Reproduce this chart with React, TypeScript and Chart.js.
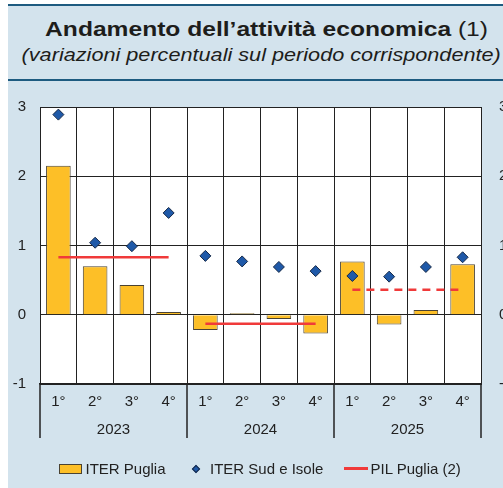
import React, { useEffect, useRef } from 'react';
import { Chart, registerables } from 'chart.js';

Chart.register(...registerables);

const quarterLabels = ['1°', '2°', '3°', '4°', '1°', '2°', '3°', '4°', '1°', '2°', '3°', '4°'];
const yearLabels = ['2023', '2024', '2025'];
const iterPuglia = [2.15, 0.7, 0.43, 0.04, -0.22, 0.02, -0.06, -0.27, 0.77, -0.14, 0.07, 0.73];
const iterSudIsole = [2.89, 1.04, 0.99, 1.47, 0.85, 0.77, 0.69, 0.63, 0.56, 0.55, 0.69, 0.83];
const pilPuglia = [0.83, 0.83, 0.83, 0.83, -0.13, -0.13, -0.13, -0.13, 0.36, 0.36, 0.36, 0.36];
const yMin = -1;
const yMax = 3;

const FONT = '"Liberation Sans", Arial, Helvetica, sans-serif';
const BG = '#d3e3ed';
const DARK = '#1d5b80';
const BAR = '#fdbf27';
const BAR_BORDER = '#4a4232';
const DIAMOND = '#1f59a8';
const DIAMOND_BORDER = '#172a48';
const RED = '#f03a3a';
const GRID = '#222';
const TEXT = '#222';

const plotBackground = {
  id: 'plotBackground',
  beforeDraw(chart: any) {
    const { ctx, chartArea } = chart;
    ctx.save();
    ctx.fillStyle = '#ffffff';
    ctx.fillRect(chartArea.left, chartArea.top, chartArea.right - chartArea.left, chartArea.bottom - chartArea.top);
    ctx.restore();
  },
};

const yearDividers = {
  id: 'yearDividers',
  afterDraw(chart: any) {
    const s = chart.scales.xYear;
    const { ctx, chartArea } = chart;
    ctx.save();
    ctx.strokeStyle = GRID;
    ctx.lineWidth = 1.5;
    for (let j = 0; j <= yearLabels.length; j++) {
      const px = s.getPixelForValue(j - 0.5);
      ctx.beginPath();
      ctx.moveTo(px, chartArea.bottom);
      ctx.lineTo(px, chartArea.bottom + 54);
      ctx.stroke();
    }
    ctx.restore();
  },
};

function ChartCanvas() {
  const ref = useRef<HTMLCanvasElement | null>(null);
  useEffect(() => {
    if (!ref.current) return;
    const font = { family: FONT, size: 15 };
    const chart = new Chart(ref.current, {
      data: {
        labels: quarterLabels,
        datasets: [
          {
            type: 'bar',
            label: 'ITER Puglia',
            data: iterPuglia,
            backgroundColor: BAR,
            borderColor: BAR_BORDER,
            borderWidth: 1,
            barPercentage: 0.67,
            categoryPercentage: 1,
            order: 3,
          },
          {
            type: 'line',
            label: 'PIL Puglia (2)',
            data: pilPuglia,
            borderColor: RED,
            borderWidth: 2.5,
            pointRadius: 0,
            fill: false,
            segment: {
              borderColor: (c: any) => (c.p0DataIndex % 4 === 3 ? 'rgba(0,0,0,0)' : RED),
              borderDash: (c: any) => (c.p0DataIndex >= 8 ? [8, 6] : []),
            },
            order: 2,
          },
          {
            type: 'line',
            label: 'ITER Sud e Isole',
            data: iterSudIsole,
            showLine: false,
            pointStyle: 'rectRot',
            pointRadius: 5.5,
            pointBackgroundColor: DIAMOND,
            pointBorderColor: DIAMOND_BORDER,
            pointBorderWidth: 1,
            order: 1,
          },
        ] as any,
      },
      options: {
        animation: false,
        responsive: true,
        maintainAspectRatio: false,
        layout: { padding: { top: 21, bottom: 44, left: 0, right: 0 } },
        plugins: { legend: { display: false }, tooltip: { enabled: false } },
        scales: {
          x: {
            type: 'category',
            position: 'bottom',
            offset: true,
            weight: 0,
            grid: { offset: true, color: GRID, lineWidth: 1, drawTicks: false },
            border: { display: true, color: GRID, width: 1.5 },
            ticks: { font, color: TEXT, padding: 9, maxRotation: 0, autoSkip: false },
            afterFit: (s: any) => { s.height = 30; },
          },
          xYear: {
            type: 'category',
            labels: yearLabels,
            position: 'bottom',
            offset: true,
            weight: 1,
            grid: { display: false, drawTicks: false },
            border: { display: false },
            ticks: { font, color: TEXT, padding: 7, maxRotation: 0, autoSkip: false },
            afterFit: (s: any) => { s.height = 30; },
          },
          y: {
            position: 'left',
            min: yMin,
            max: yMax,
            ticks: { stepSize: 1, font, color: TEXT, padding: 14 },
            grid: { color: GRID, lineWidth: 1, drawTicks: false },
            border: { display: true, color: GRID },
            afterFit: (s: any) => { s.width = 40; },
          },
          yRight: {
            position: 'right',
            min: yMin,
            max: yMax,
            ticks: { stepSize: 1, font, color: TEXT, padding: 18 },
            grid: { drawOnChartArea: false, drawTicks: false },
            border: { display: true, color: GRID },
            afterFit: (s: any) => { s.width = 22; },
          },
        } as any,
      },
      plugins: [plotBackground, yearDividers],
    });
    return () => chart.destroy();
  }, []);
  return <canvas ref={ref} />;
}

export default function App() {
  const legendText: React.CSSProperties = {
    position: 'absolute',
    top: 460.8,
    fontSize: 15,
    lineHeight: '15px',
    color: TEXT,
    whiteSpace: 'nowrap',
  };
  return (
    <div
      style={{
        position: 'fixed',
        left: 0,
        top: 0,
        width: 503,
        height: 488,
        background: '#fff',
        overflow: 'hidden',
        fontFamily: FONT,
      }}
    >
      <div style={{ position: 'absolute', left: 8, top: 6, right: 0, bottom: 0, background: BG }} />
      <div style={{ position: 'absolute', left: 8, top: 4, right: 0, height: 2, background: DARK }} />
      <div style={{ position: 'absolute', left: 8, top: 79, right: 0, height: 2, background: DARK }} />
      <div
        style={{
          position: 'absolute',
          left: 0,
          width: 534,
          top: 18.6,
          textAlign: 'center',
          fontSize: 20.5,
          lineHeight: '20.5px',
          color: '#1d1d1b',
          whiteSpace: 'nowrap',
        }}
      >
        <span style={{ display: 'inline-block', transform: 'scaleX(1.2)' }}>
          <b>Andamento dell’attività economica</b> (1)
        </span>
      </div>
      <div
        style={{
          position: 'absolute',
          left: 0,
          width: 522,
          top: 45,
          textAlign: 'center',
          fontSize: 19,
          lineHeight: '19px',
          fontStyle: 'italic',
          color: '#1d1d1b',
          whiteSpace: 'nowrap',
        }}
      >
        <span style={{ display: 'inline-block', transform: 'scaleX(1.14)' }}>
          (variazioni percentuali sul periodo corrispondente)
        </span>
      </div>
      <div style={{ position: 'absolute', left: 0, top: 80, width: 503, height: 408 }}>
        <ChartCanvas />
      </div>
      {/* legend */}
      <div
        style={{
          position: 'absolute',
          left: 59,
          top: 463.5,
          width: 23,
          height: 10,
          boxSizing: 'border-box',
          background: BAR,
          border: `1px solid ${BAR_BORDER}`,
        }}
      />
      <div style={{ ...legendText, left: 85.5 }}>ITER Puglia</div>
      <div
        style={{
          position: 'absolute',
          left: 195.5 - 3,
          top: 468.5 - 3,
          width: 6,
          height: 6,
          boxSizing: 'border-box',
          background: DIAMOND,
          border: `1px solid ${DIAMOND_BORDER}`,
          transform: 'rotate(45deg)',
        }}
      />
      <div style={{ ...legendText, left: 210 }}>ITER Sud e Isole</div>
      <div style={{ position: 'absolute', left: 344, top: 467, width: 24, height: 2.5, background: RED }} />
      <div style={{ ...legendText, left: 370.5 }}>PIL Puglia (2)</div>
    </div>
  );
}
